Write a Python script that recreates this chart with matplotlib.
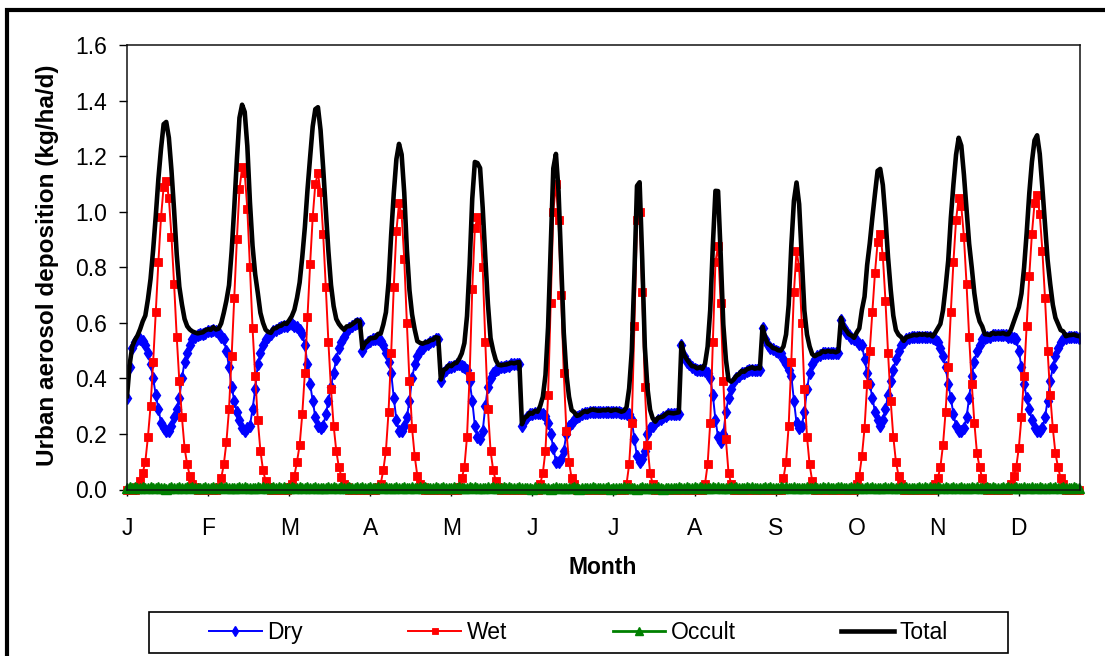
import numpy as np
import matplotlib.pyplot as plt
from matplotlib.patches import Rectangle

plt.rcParams['font.family'] = ['Liberation Sans', 'DejaVu Sans']

# daily urban aerosol deposition (kg/ha/d), one row per month
dry = [
    0.33, 0.44, 0.51, 0.53, 0.54, 0.54, 0.535, 0.52, 0.49, 0.45, 0.40, 0.34, 0.29, 0.24, 0.22, 0.21,
    0.21, 0.23, 0.26, 0.29, 0.33, 0.40, 0.46, 0.49, 0.52, 0.54, 0.55, 0.555, 0.56, 0.56, 0.565,
    0.57, 0.57, 0.575, 0.57, 0.565, 0.55, 0.54, 0.50, 0.44, 0.37, 0.32, 0.28, 0.25, 0.22,
    0.21, 0.22, 0.23, 0.29, 0.36, 0.45, 0.49, 0.52, 0.54, 0.55, 0.56, 0.57, 0.575, 0.58,
    0.585, 0.59, 0.59, 0.595, 0.595, 0.59, 0.585, 0.575, 0.56, 0.52, 0.45, 0.38, 0.32, 0.26, 0.23, 0.22,
    0.23, 0.27, 0.32, 0.37, 0.42, 0.47, 0.51, 0.53, 0.55, 0.57, 0.58, 0.59, 0.595, 0.60, 0.60,
    0.50, 0.52, 0.53, 0.535, 0.54, 0.54, 0.54, 0.535, 0.52, 0.49, 0.46, 0.42, 0.33, 0.25, 0.21,
    0.21, 0.23, 0.26, 0.32, 0.40, 0.45, 0.48, 0.50, 0.51, 0.52, 0.525, 0.53, 0.535, 0.54, 0.54,
    0.39, 0.42, 0.43, 0.44, 0.44, 0.445, 0.45, 0.45, 0.445, 0.44, 0.43, 0.39, 0.32, 0.23, 0.19, 0.18,
    0.21, 0.30, 0.37, 0.40, 0.42, 0.43, 0.435, 0.44, 0.44, 0.445, 0.445, 0.45, 0.45, 0.45, 0.45,
    0.23, 0.25, 0.26, 0.27, 0.27, 0.275, 0.275, 0.275, 0.27, 0.265, 0.24, 0.20, 0.15, 0.10, 0.10,
    0.11, 0.14, 0.20, 0.23, 0.24, 0.25, 0.26, 0.265, 0.27, 0.275, 0.275, 0.28, 0.28, 0.28, 0.28,
    0.28, 0.28, 0.28, 0.28, 0.28, 0.28, 0.28, 0.28, 0.275, 0.275, 0.27, 0.27, 0.25, 0.18, 0.12, 0.10,
    0.11, 0.14, 0.20, 0.22, 0.23, 0.24, 0.25, 0.255, 0.26, 0.265, 0.27, 0.27, 0.27, 0.27, 0.27,
    0.52, 0.48, 0.46, 0.45, 0.44, 0.435, 0.43, 0.43, 0.43, 0.425, 0.42, 0.40, 0.34, 0.25, 0.19, 0.17,
    0.20, 0.28, 0.33, 0.36, 0.39, 0.40, 0.41, 0.42, 0.42, 0.425, 0.43, 0.43, 0.43, 0.43, 0.43,
    0.58, 0.54, 0.52, 0.51, 0.505, 0.50, 0.495, 0.49, 0.47, 0.45, 0.43, 0.41, 0.32, 0.24, 0.22,
    0.23, 0.28, 0.36, 0.42, 0.45, 0.47, 0.48, 0.485, 0.49, 0.49, 0.49, 0.49, 0.49, 0.49, 0.49,
    0.61, 0.58, 0.565, 0.555, 0.545, 0.54, 0.535, 0.525, 0.52, 0.47, 0.42, 0.38, 0.33, 0.28, 0.25, 0.23,
    0.25, 0.29, 0.34, 0.39, 0.43, 0.47, 0.50, 0.52, 0.53, 0.54, 0.545, 0.55, 0.55, 0.55, 0.55,
    0.55, 0.55, 0.55, 0.55, 0.545, 0.54, 0.53, 0.51, 0.48, 0.44, 0.38, 0.33, 0.27, 0.23, 0.21,
    0.21, 0.22, 0.26, 0.33, 0.41, 0.46, 0.50, 0.52, 0.54, 0.545, 0.55, 0.55, 0.555, 0.555, 0.555,
    0.555, 0.555, 0.555, 0.55, 0.55, 0.545, 0.54, 0.50, 0.44, 0.38, 0.33, 0.29, 0.25, 0.22, 0.21, 0.21,
    0.22, 0.26, 0.32, 0.39, 0.44, 0.48, 0.51, 0.53, 0.54, 0.545, 0.55, 0.55, 0.55, 0.55, 0.545,
]

wet = [
    0, 0, 0, 0, 0.01, 0.03, 0.06, 0.10, 0.19, 0.30, 0.46, 0.64, 0.82, 0.98, 1.09, 1.11,
    1.05, 0.91, 0.74, 0.55, 0.39, 0.26, 0.15, 0.09, 0.05, 0.02, 0.01, 0, 0, 0, 0,
    0, 0, 0, 0, 0.01, 0.04, 0.09, 0.17, 0.29, 0.48, 0.69, 0.90, 1.08, 1.16,
    1.14, 1.01, 0.80, 0.58, 0.41, 0.25, 0.14, 0.07, 0.03, 0.01, 0, 0, 0, 0,
    0, 0, 0, 0.01, 0.02, 0.05, 0.10, 0.16, 0.27, 0.42, 0.62, 0.81, 0.98, 1.10, 1.14, 1.07,
    0.92, 0.73, 0.53, 0.36, 0.23, 0.14, 0.08, 0.045, 0.02, 0.01, 0, 0, 0, 0, 0,
    0, 0, 0, 0, 0, 0, 0.01, 0.02, 0.07, 0.14, 0.28, 0.49, 0.73, 0.93, 1.03,
    0.99, 0.83, 0.60, 0.39, 0.22, 0.12, 0.05, 0.02, 0.01, 0, 0, 0, 0, 0, 0,
    0, 0, 0, 0, 0, 0, 0, 0.01, 0.04, 0.08, 0.19, 0.41, 0.72, 0.94, 0.98, 0.97,
    0.80, 0.53, 0.29, 0.14, 0.07, 0.03, 0.01, 0, 0, 0, 0, 0, 0, 0, 0,
    0, 0, 0, 0, 0, 0, 0, 0.02, 0.06, 0.14, 0.34, 0.67, 1.00, 1.10, 0.97,
    0.70, 0.42, 0.21, 0.10, 0.04, 0.02, 0, 0, 0, 0, 0, 0, 0, 0, 0,
    0, 0, 0, 0, 0, 0, 0, 0, 0, 0, 0.02, 0.09, 0.24, 0.59, 0.97, 1.00,
    0.71, 0.37, 0.16, 0.06, 0.02, 0, 0, 0, 0, 0, 0, 0, 0, 0, 0,
    0, 0, 0, 0, 0, 0, 0, 0, 0, 0.02, 0.09, 0.24, 0.53, 0.82, 0.875, 0.67,
    0.39, 0.18, 0.06, 0.02, 0, 0, 0, 0, 0, 0, 0, 0, 0, 0, 0,
    0, 0, 0, 0, 0, 0, 0, 0, 0.04, 0.10, 0.23, 0.46, 0.71, 0.86, 0.80,
    0.60, 0.36, 0.19, 0.09, 0.03, 0, 0, 0, 0, 0, 0, 0, 0, 0, 0,
    0, 0, 0, 0, 0, 0, 0.02, 0.05, 0.12, 0.22, 0.38, 0.50, 0.64, 0.78, 0.89, 0.92,
    0.84, 0.68, 0.49, 0.32, 0.19, 0.10, 0.05, 0.02, 0, 0, 0, 0, 0, 0, 0,
    0, 0, 0, 0, 0, 0.02, 0.04, 0.08, 0.16, 0.28, 0.44, 0.64, 0.82, 0.97, 1.05,
    1.02, 0.91, 0.74, 0.55, 0.38, 0.24, 0.13, 0.08, 0.04, 0.01, 0, 0, 0, 0, 0,
    0, 0, 0, 0, 0.02, 0.05, 0.08, 0.15, 0.26, 0.41, 0.59, 0.77, 0.92, 1.03, 1.06, 0.99,
    0.86, 0.69, 0.50, 0.34, 0.22, 0.13, 0.08, 0.04, 0.02, 0, 0, 0, 0, 0, 0,
]

occult = [
    0.006, 0.009, 0.005, 0.008, 0.004, 0.007, 0.010, 0.006, 0.005, 0.008, 0.004, 0.006, 0.009, 0.007, 0.005, 0.003,
    0.006, 0.008, 0.005, 0.007, 0.010, 0.006, 0.004, 0.008, 0.006, 0.009, 0.005, 0.007, 0.004, 0.006, 0.008,
    0.007, 0.005, 0.009, 0.006, 0.004, 0.008, 0.006, 0.010, 0.005, 0.007, 0.004, 0.006, 0.008, 0.005,
    0.009, 0.006, 0.004, 0.007, 0.005, 0.008, 0.006, 0.010, 0.005, 0.007, 0.004, 0.009, 0.006, 0.008,
    0.005, 0.008, 0.006, 0.004, 0.009, 0.007, 0.005, 0.010, 0.006, 0.004, 0.008, 0.005, 0.007, 0.009, 0.006, 0.004,
    0.007, 0.005, 0.008, 0.006, 0.010, 0.004, 0.006, 0.009, 0.005, 0.007, 0.008, 0.004, 0.006, 0.009, 0.005,
    0.008, 0.006, 0.004, 0.009, 0.005, 0.007, 0.010, 0.006, 0.004, 0.008, 0.005, 0.007, 0.006, 0.009, 0.004,
    0.006, 0.008, 0.005, 0.007, 0.010, 0.006, 0.004, 0.008, 0.005, 0.009, 0.006, 0.007, 0.004, 0.008, 0.006,
    0.006, 0.009, 0.005, 0.007, 0.004, 0.008, 0.006, 0.010, 0.005, 0.007, 0.004, 0.008, 0.006, 0.009, 0.005, 0.007,
    0.004, 0.006, 0.008, 0.005, 0.010, 0.006, 0.004, 0.007, 0.009, 0.005, 0.008, 0.006, 0.004, 0.007, 0.009,
    0.005, 0.007, 0.004, 0.006, 0.003, 0.008, 0.005, 0.006, 0.004, 0.007, 0.005, 0.003, 0.006, 0.008, 0.004,
    0.006, 0.005, 0.007, 0.004, 0.006, 0.008, 0.005, 0.003, 0.006, 0.007, 0.004, 0.005, 0.008, 0.006, 0.004,
    0.004, 0.006, 0.005, 0.008, 0.003, 0.006, 0.007, 0.004, 0.005, 0.008, 0.006, 0.004, 0.007, 0.005, 0.003, 0.006,
    0.008, 0.004, 0.005, 0.007, 0.006, 0.004, 0.008, 0.005, 0.003, 0.006, 0.007, 0.005, 0.004, 0.006, 0.008,
    0.007, 0.005, 0.009, 0.006, 0.004, 0.008, 0.006, 0.010, 0.005, 0.007, 0.004, 0.006, 0.008, 0.005, 0.009, 0.006,
    0.004, 0.007, 0.005, 0.008, 0.006, 0.009, 0.005, 0.007, 0.004, 0.008, 0.006, 0.010, 0.005, 0.007, 0.006,
    0.006, 0.008, 0.005, 0.009, 0.004, 0.007, 0.006, 0.010, 0.005, 0.008, 0.004, 0.006, 0.009, 0.005, 0.007,
    0.006, 0.004, 0.008, 0.005, 0.007, 0.010, 0.006, 0.004, 0.008, 0.005, 0.009, 0.006, 0.007, 0.004, 0.008,
    0.008, 0.005, 0.007, 0.004, 0.009, 0.006, 0.010, 0.005, 0.007, 0.004, 0.008, 0.006, 0.009, 0.005, 0.007, 0.004,
    0.006, 0.008, 0.005, 0.010, 0.006, 0.004, 0.007, 0.009, 0.005, 0.008, 0.006, 0.004, 0.007, 0.005, 0.009,
    0.007, 0.009, 0.005, 0.008, 0.006, 0.004, 0.010, 0.006, 0.005, 0.008, 0.004, 0.007, 0.009, 0.005, 0.006,
    0.008, 0.004, 0.007, 0.005, 0.009, 0.006, 0.010, 0.005, 0.007, 0.004, 0.008, 0.006, 0.009, 0.005, 0.007,
    0.006, 0.008, 0.004, 0.009, 0.005, 0.007, 0.010, 0.006, 0.005, 0.008, 0.004, 0.006, 0.009, 0.007, 0.005, 0.008,
    0.006, 0.004, 0.007, 0.010, 0.005, 0.008, 0.006, 0.004, 0.009, 0.007, 0.005, 0.006, 0.008, 0.004, 0.007,
]

month_labels = ['J', 'F', 'M', 'A', 'M', 'J', 'J', 'A', 'S', 'O', 'N', 'D']

dry = np.array(dry)
wet = np.array(wet)
occult = np.array(occult)
total = dry + wet + occult
day = np.arange(len(dry))

W, H = 1105, 656
fig = plt.figure(figsize=(W / 100, H / 100), dpi=100)
ax = fig.add_axes([126.5 / W, (H - 489.5) / H, 953 / W, 444.5 / H])

l_dry, = ax.plot(day, dry, color='#0000FF', lw=1.4, marker='d', ms=6.5, mew=1.0, mec='#0000FF')
l_wet, = ax.plot(day, wet, color='#FF0000', lw=1.4, marker='s', ms=5.6, mew=0.6, mec='#FF0000',
                 clip_on=False)
l_occ, = ax.plot(day, occult, color='#008000', lw=2.0, marker='^', ms=7.5, mew=1.0, mec='#008000',
                 clip_on=False)
l_tot, = ax.plot(day, total, color='black', lw=3.3)

ax.set_xlim(-0.2, 364.2)
ax.set_ylim(0, 1.6)
ax.set_yticks(np.arange(0, 1.61, 0.2))
ax.set_yticklabels(['%.1f' % v for v in np.arange(0, 1.61, 0.2)])
ax.set_xticks(np.arange(0, 365, 31))
ax.set_xticklabels(month_labels)

ax.tick_params(axis='y', direction='out', length=6, width=1, labelsize=16.5, pad=8)
ax.tick_params(axis='x', direction='out', length=4.5, width=1, labelsize=16.5, pad=15)
for s in ax.spines.values():
    s.set_linewidth(1.1)
    s.set_color('#111111')

fig.text(603 / W, 1 - 568 / H, 'Month', ha='center', va='center', fontsize=16.5, fontweight='bold')
fig.text(48 / W, 1 - 265 / H, 'Urban aerosol deposition (kg/ha/d)', rotation=90,
         ha='center', va='center', fontsize=17.5, fontweight='bold')

# legend with its own box
fig.legend([l_dry, l_wet, l_occ, l_tot], ['Dry', 'Wet', 'Occult', 'Total'],
           loc='center', bbox_to_anchor=(578.5 / W, 1 - 632.5 / H), ncol=4, frameon=False,
           fontsize=16.5, handlelength=2.3, handletextpad=0.25, columnspacing=4.6,
           markerscale=0.75)
fig.add_artist(Rectangle((149 / W, 3 / H), 859 / W, 41 / H, transform=fig.transFigure,
                         fill=False, edgecolor='black', lw=1.2))

# outer chart border
fig.add_artist(Rectangle((7 / W, -20 / H), 1120 / W, 666 / H, transform=fig.transFigure,
                         fill=False, edgecolor='black', lw=3.0))

fig.savefig('out.png', dpi=100)
